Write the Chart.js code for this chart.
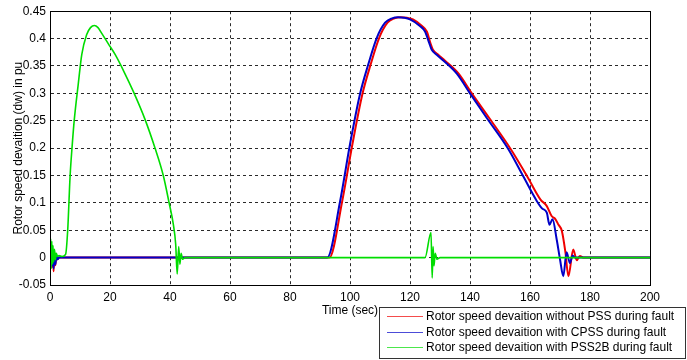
<!DOCTYPE html>
<html>
<head>
<meta charset="utf-8">
<script src="https://cdn.jsdelivr.net/npm/chart.js@4"></script>
<style>
  body { margin: 0; background: #fff; }
  #wrap { width: 687px; height: 360px; }
</style>
</head>
<body>
<div id="wrap"><canvas id="speedChart" width="687" height="360"></canvas></div>
<script>
const seriesLabels = [
  "Rotor speed devaition without PSS during fault",
  "Rotor speed devaition with CPSS during fault",
  "Rotor speed devaition with PSS2B during fault"
];

const noPssTime = [0, 0.3, 0.6, 0.9, 1.2, 1.5, 1.8, 2.1, 2.5, 3, 93.1, 97.4, 100.8, 104.1, 106.9, 109.7, 112.5, 114.8, 117, 119, 121, 124, 125.6, 126.8, 127.6, 129.5, 131.6, 136.2, 140.6, 146.4, 153.6, 158.9, 163.5, 165.5, 167.2, 168.5, 169.5, 170.6, 171.8, 172.8, 174.4, 175.6, 176.6, 178, 200];
const noPssSpeed = [0, 0.014, -0.018, 0.012, -0.025, 0.01, -0.014, 0.005, -0.003, 0, 0, 0.103, 0.207, 0.298, 0.353, 0.401, 0.429, 0.437, 0.439, 0.438, 0.435, 0.423, 0.413, 0.392, 0.38, 0.37, 0.36, 0.336, 0.3, 0.255, 0.198, 0.15, 0.106, 0.095, 0.076, 0.07, 0.06, 0.049, 0.01, -0.034, 0.015, -0.005, 0.003, 0, 0];

const cpssTime = [0, 0.3, 0.6, 0.9, 1.2, 1.5, 1.8, 2.1, 2.5, 3, 92.4, 96.7, 100, 103.3, 106.1, 108.9, 111.7, 114, 116.1, 118, 120, 123.3, 125, 126.4, 127.2, 129, 131.1, 135.6, 140, 145.6, 152.8, 157.8, 162.2, 164, 165.6, 166.5, 167.5, 168.9, 170, 171.1, 172.2, 173.3, 174.2, 175, 200];
const cpssSpeed = [0, 0.012, -0.015, 0.01, -0.02, 0.008, -0.012, 0.004, -0.003, 0, 0, 0.103, 0.207, 0.298, 0.353, 0.401, 0.429, 0.437, 0.439, 0.438, 0.435, 0.423, 0.413, 0.392, 0.38, 0.37, 0.36, 0.336, 0.3, 0.255, 0.198, 0.148, 0.104, 0.09, 0.082, 0.06, 0.07, 0.033, -0.003, -0.034, 0.01, -0.01, 0.004, 0, 0];

const pss2bTime = [0, 0.2, 0.4, 0.6, 0.8, 1.0, 1.2, 1.5, 1.8, 2.1, 2.5, 3, 4, 5.2, 5.9, 6.7, 7.4, 8.1, 9.4, 10.6, 12.2, 13.5, 14.8, 16, 17.2, 19.5, 21.7, 24.8, 27.8, 31.7, 35, 37.8, 39.7, 41.1, 41.9, 42.4, 42.9, 43.3, 43.7, 44.2, 45, 125, 127, 127.4, 127.7, 128, 128.4, 129, 130, 200];
const pss2bSpeed = [-0.045, 0.035, -0.02, 0.03, -0.012, 0.022, -0.008, 0.015, -0.004, 0.008, 0.002, 0.004, 0.002, 0.006, 0.05, 0.149, 0.205, 0.252, 0.316, 0.371, 0.407, 0.42, 0.424, 0.42, 0.41, 0.39, 0.371, 0.338, 0.303, 0.252, 0.2, 0.149, 0.1, 0.061, 0.024, -0.03, 0.02, -0.012, 0.008, -0.003, 0, 0, 0.046, -0.037, 0.02, -0.015, 0.008, -0.003, 0, 0];

const seriesColors = ["#f00000", "#0000c8", "#00dd00"];

const xTicks = [0, 20, 40, 60, 80, 100, 120, 140, 160, 180, 200];
const yTicks = [-0.05, 0, 0.05, 0.1, 0.15, 0.2, 0.25, 0.3, 0.35, 0.4, 0.45];

function toPoints(times, values) {
  return times.map((t, i) => ({ x: t, y: values[i] }));
}

const framePlugin = {
  id: "frame",
  afterDraw(chart) {
    const { ctx, chartArea: a } = chart;
    ctx.save();
    ctx.strokeStyle = "#000";
    ctx.lineWidth = 1;
    ctx.strokeRect(Math.round(a.left) + 0.5, Math.round(a.top) + 0.5, Math.round(a.right - a.left), Math.round(a.bottom - a.top));
    ctx.restore();
  }
};

const legendBoxPlugin = {
  id: "legendBox",
  afterDraw(chart) {
    const ctx = chart.ctx;
    const left = 379, top = 307, width = 306, height = 51;
    ctx.save();
    ctx.fillStyle = "#fff";
    ctx.fillRect(left, top, width, height);
    ctx.strokeStyle = "#333";
    ctx.lineWidth = 1;
    ctx.strokeRect(left + 0.5, top + 0.5, width, height);
    ctx.font = "12px Arial, 'Liberation Sans', sans-serif";
    ctx.textBaseline = "middle";
    chart.data.datasets.forEach((ds, i) => {
      const y = Math.round(top + 9 + i * 15.5) + 0.5;
      ctx.strokeStyle = ds.borderColor;
      ctx.globalAlpha = 0.7;
      ctx.beginPath();
      ctx.moveTo(387, y);
      ctx.lineTo(423, y);
      ctx.stroke();
      ctx.globalAlpha = 1;
      ctx.fillStyle = "#000";
      ctx.fillText(ds.label, 426, y);
    });
    ctx.restore();
  }
};

function renderChart() {
  const canvas = document.getElementById("speedChart");
  const ctx = canvas.getContext("2d");

  Chart.defaults.font.family = "Arial, 'Liberation Sans', sans-serif";
  Chart.defaults.font.size = 12;
  Chart.defaults.color = "#000";

  const gridStyle = {
    color: "#2a2a2a",
    lineWidth: 1,
    drawTicks: false
  };

  new Chart(ctx, {
    type: "line",
    data: {
      datasets: [
        { label: seriesLabels[0], data: toPoints(noPssTime, noPssSpeed), borderColor: seriesColors[0], borderWidth: 2, order: 2 },
        { label: seriesLabels[1], data: toPoints(cpssTime, cpssSpeed), borderColor: seriesColors[1], borderWidth: 2, order: 1 },
        { label: seriesLabels[2], data: toPoints(pss2bTime, pss2bSpeed), borderColor: seriesColors[2], borderWidth: 1.6, order: 0 }
      ]
    },
    options: {
      responsive: false,
      animation: false,
      layout: { padding: { top: 11, right: 37, left: 0, bottom: 0 } },
      elements: {
        point: { radius: 0 },
        line: { cubicInterpolationMode: "monotone", fill: false }
      },
      plugins: {
        legend: { display: false },
        tooltip: { enabled: false }
      },
      scales: {
        x: {
          type: "linear",
          min: 0,
          max: 200,
          afterBuildTicks(scale) {
            scale.ticks = xTicks.map(v => ({ value: v }));
          },
          afterFit(scale) {
            scale.height = 75;
          },
          grid: gridStyle,
          border: { display: true, color: "#000", dash: [3, 3] },
          ticks: { padding: 5, maxRotation: 0, autoSkip: false },
          title: { display: true, text: "Time (sec)", padding: { top: 0, bottom: 42 } }
        },
        y: {
          min: -0.05,
          max: 0.45,
          afterBuildTicks(scale) {
            scale.ticks = yTicks.map(v => ({ value: v }));
          },
          afterFit(scale) {
            scale.width = 50;
          },
          grid: gridStyle,
          border: { display: true, color: "#000", dash: [3, 3] },
          ticks: {
            padding: 4,
            autoSkip: false,
            callback: v => String(parseFloat(Number(v).toFixed(2)))
          },
          title: { display: true, text: "Rotor speed devaition (dw) in pu", padding: { top: 11, bottom: 0 } }
        }
      }
    },
    plugins: [framePlugin, legendBoxPlugin]
  });
}

renderChart();
</script>
</body>
</html>
